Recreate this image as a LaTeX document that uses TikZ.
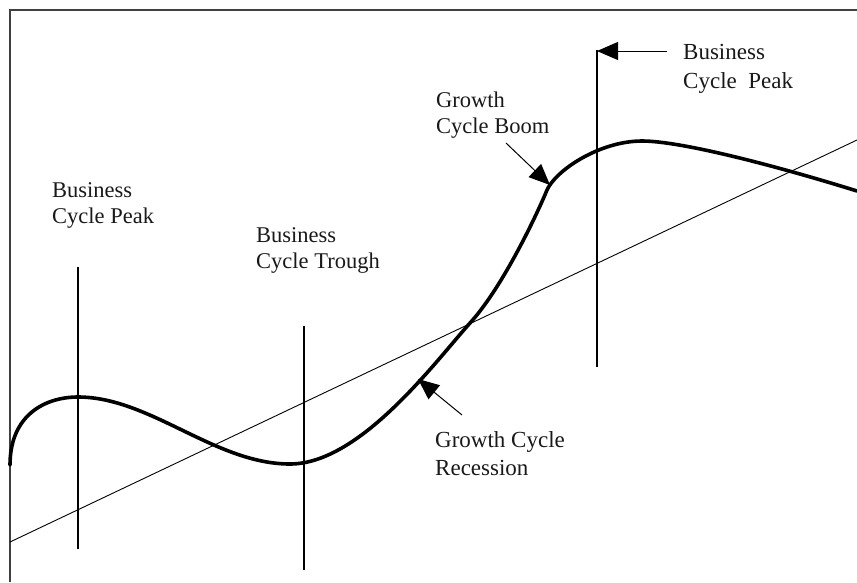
\documentclass[tikz,border=0pt]{standalone}
\usepackage{fontspec}
\setmainfont{Liberation Serif}
\usetikzlibrary{arrows.meta}
\begin{document}
\begin{tikzpicture}[x=1pt,y=-1pt,
  lbl/.style={anchor=base west, inner sep=0pt, align=left, font=\fontsize{22.5}{26}\selectfont, text=black!90},
  frameline/.style={line width=2.4pt, draw=black!75},
  marker/.style={line width=1.5pt},
  trend/.style={line width=0.9pt},
  cycleline/.style={line width=3.6pt, line join=round, line cap=round},
  pointer/.style={line width=1pt, -{Triangle[length=21pt,width=18pt]}}]
\useasboundingbox (0,0) rectangle (857,582);
% frame
\draw[frameline] (857,10) -- (10,10) -- (10,582);
% trend line
\coordinate (trA) at (10,542);
\coordinate (trB) at (857,140);
\draw[trend] (trA) -- (trB);
% vertical markers
\coordinate (p1t) at (78,267); \coordinate (p1b) at (78,549);
\coordinate (t1t) at (304,326); \coordinate (t1b) at (304,570);
\coordinate (p2t) at (597,50); \coordinate (p2b) at (597,367);
\draw[marker] (p1t) -- (p1b);
\draw[marker] (t1t) -- (t1b);
\draw[marker] (p2t) -- (p2b);
% cycle curve
\coordinate (c0) at (10,465);
\coordinate (c1) at (78,397);
\coordinate (c2) at (290,464);
\coordinate (c3) at (470,323);
\coordinate (c4) at (547,190);
\coordinate (c5) at (642,141);
\coordinate (c6) at (857,191);
\draw[cycleline] (c0)
  .. controls (10,415) and (45,397) .. (c1)
  .. controls (150,397) and (215,464) .. (c2)
  .. controls (360,464) and (435,362) .. (c3)
  .. controls (503,287) and (538,212) .. (c4)
  .. controls (556,170) and (600,141) .. (c5)
  .. controls (682,141) and (780,167) .. (c6);
% labels
\node[lbl] (lp1) at (52,223) {Business\\Cycle Peak};
\node[lbl] (lt1) at (256,268) {Business\\Cycle Trough};
\node[lbl] (lboom) at (436,133) {Growth\\Cycle Boom};
\node[lbl, font=\fontsize{23}{29}\selectfont] (lp2) at (683,88) {Business\\Cycle\ \ Peak};
\node[lbl, font=\fontsize{23}{28}\selectfont] (lrec) at (435,475) {Growth Cycle\\Recession};
% pointers
\coordinate (boomtail) at (506,143); \coordinate (boomtip) at (550,185);
\coordinate (rectail) at (462,415); \coordinate (rectip) at (418,379);
\coordinate (p2tail) at (667,51); \coordinate (p2tip) at (597,51);
\draw[pointer] (boomtail) -- (boomtip);
\draw[pointer] (rectail) -- (rectip);
\draw[pointer] (p2tail) -- (p2tip);
\end{tikzpicture}
\end{document}
